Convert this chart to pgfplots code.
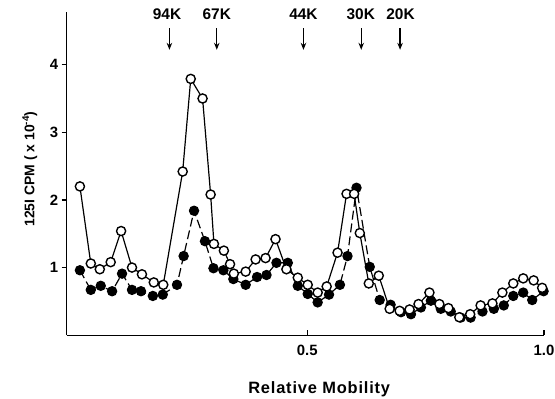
\documentclass[border=0pt]{standalone}
\usepackage{pgfplots}
\pgfplotsset{compat=1.18}
\usepackage{fontspec}
\setmainfont{Liberation Sans}
\usetikzlibrary{arrows.meta}

% 125I counts per fraction, open circles
\pgfplotstableread{
x y
0.020 2.20
0.043 1.06
0.062 0.975
0.085 1.08
0.107 1.54
0.130 1.00
0.151 0.90
0.176 0.78
0.196 0.745
0.237 2.42
0.254 3.79
0.279 3.50
0.296 2.08
0.303 1.35
0.324 1.25
0.337 1.05
0.345 0.91
0.370 0.94
0.391 1.12
0.412 1.14
0.433 1.42
0.456 0.975
0.480 0.85
0.501 0.745
0.522 0.63
0.541 0.72
0.564 1.22
0.583 2.09
0.599 2.09
0.611 1.51
0.630 0.765
0.651 0.88
0.674 0.39
0.695 0.36
0.716 0.38
0.735 0.46
0.758 0.63
0.779 0.46
0.798 0.40
0.821 0.265
0.844 0.31
0.866 0.44
0.891 0.47
0.912 0.63
0.935 0.765
0.956 0.84
0.978 0.81
0.996 0.70
}\opendata

% 125I counts per fraction, filled circles
\pgfplotstableread{
x y
0.020 0.96
0.043 0.67
0.064 0.73
0.088 0.65
0.109 0.91
0.130 0.67
0.149 0.65
0.174 0.58
0.195 0.60
0.225 0.745
0.239 1.17
0.261 1.84
0.284 1.39
0.302 0.99
0.323 0.96
0.344 0.83
0.370 0.745
0.394 0.86
0.414 0.89
0.435 1.07
0.459 1.07
0.480 0.73
0.501 0.61
0.522 0.485
0.546 0.60
0.569 0.745
0.585 1.17
0.604 2.18
0.632 1.01
0.653 0.52
0.676 0.45
0.698 0.34
0.719 0.31
0.740 0.41
0.761 0.51
0.782 0.39
0.803 0.35
0.824 0.26
0.845 0.26
0.870 0.35
0.894 0.39
0.915 0.44
0.935 0.58
0.956 0.63
0.975 0.52
0.999 0.65
}\filleddata

\tikzset{
  mwlabel/.style={font=\fontsize{15.5}{18}\selectfont\bfseries},
  mwarrow/.style={line width=1.3pt, -{Stealth[length=7pt,width=5.5pt]}},
}

\begin{document}
\begin{tikzpicture}
\begin{axis}[
  scale only axis,
  width=480pt, height=325pt,
  xmin=-0.008, xmax=1.0,
  ymin=0, ymax=4.78,
  axis lines=left,
  axis line style={-, line width=1.3pt},
  clip=false,
  xtick={0.5,1.0},
  xticklabels={0.5,1.0},
  ytick={1,2,3,4},
  tick align=outside,
  major tick length=5pt,
  tick style={line width=1.2pt, black},
  x tick style={yshift=5pt},
  /pgf/number format/assume math mode=true,
  ticklabel style={font=\fontsize{15}{17}\selectfont\bfseries},
  xticklabel style={yshift=-1pt},
  xlabel={Relative Mobility},
  ylabel={125I CPM ( x 10\textsuperscript{-4})},
  xlabel style={at={(axis description cs:0.529,-0.166)}, anchor=center,
    font=\fontsize{16.5}{19}\selectfont\bfseries\addfontfeature{LetterSpace=5}},
  ylabel style={at={(axis description cs:-0.077,0.514)}, anchor=center,
    font=\fontsize{14}{16}\selectfont\bfseries},
]
\coordinate (sw) at (axis description cs:0,0);
\coordinate (ne) at (axis description cs:1,1);

\addplot[black, line width=1.2pt, dash pattern=on 9pt off 4pt,
  mark=*, mark size=4.6pt,
  mark options={solid, fill=black, line width=1.2pt}]
  table[x=x, y=y] {\filleddata};

\addplot[black, line width=1.2pt,
  mark=*, mark size=4.6pt,
  mark options={solid, fill=white, line width=1.4pt}]
  table[x=x, y=y] {\opendata};

% molecular weight markers
\node[mwlabel] at (axis cs:0.204,4.75) {94K};
\draw[mwarrow] (axis cs:0.209,4.54) -- (axis cs:0.209,4.22);
\node[mwlabel] at (axis cs:0.309,4.75) {67K};
\draw[mwarrow] (axis cs:0.309,4.54) -- (axis cs:0.309,4.22);
\node[mwlabel] at (axis cs:0.492,4.75) {44K};
\draw[mwarrow] (axis cs:0.492,4.54) -- (axis cs:0.492,4.22);
\node[mwlabel] at (axis cs:0.613,4.75) {30K};
\draw[mwarrow] (axis cs:0.614,4.54) -- (axis cs:0.614,4.22);
\node[mwlabel] at (axis cs:0.697,4.75) {20K};
\draw[mwarrow] (axis cs:0.696,4.54) -- (axis cs:0.696,4.22);
\end{axis}
\pgfresetboundingbox
\path ([shift={(-67pt,-64pt)}]sw) rectangle ([shift={(11pt,12pt)}]ne);
\end{tikzpicture}
\end{document}
